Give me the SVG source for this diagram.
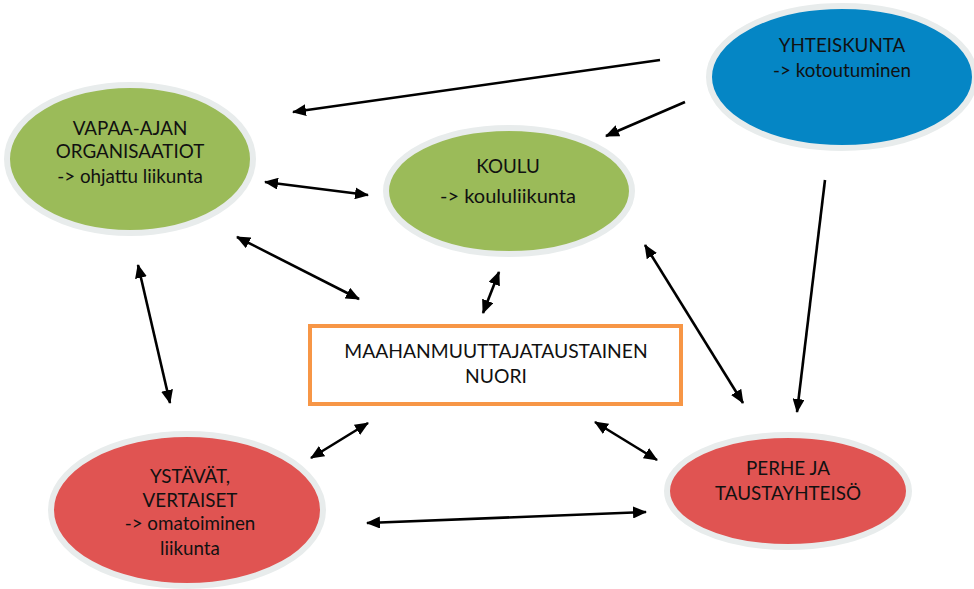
<svg xmlns="http://www.w3.org/2000/svg" width="974" height="589" viewBox="0 0 974 589">
<defs>
<marker id="ah" viewBox="0 0 14 12" refX="13" refY="6" markerWidth="14" markerHeight="12" markerUnits="userSpaceOnUse" orient="auto-start-reverse">
<path d="M0,0 L14,6 L0,12 z" fill="#000"/>
</marker>
<style>
.ring{stroke:#e8ecec;stroke-width:6}
.green{fill:#9bbb59}
.red{fill:#e05452}
.blue{fill:#0586c5}
.t{font-family:Lato,"Liberation Sans",sans-serif;font-size:18.8px;fill:#111;text-anchor:middle}
.c line{stroke:#000;stroke-width:2.6;fill:none}
.one{marker-end:url(#ah)}
.two{marker-start:url(#ah);marker-end:url(#ah)}
</style>
</defs>
<rect width="974" height="589" fill="#fff"/>
<g id="vapaa">
<ellipse class="ring green" cx="130" cy="159" rx="123" ry="74"/>
<text class="t" x="130" y="135">VAPAA-AJAN</text>
<text class="t" x="130" y="158">ORGANISAATIOT</text>
<text class="t" x="130" y="183">-&gt; ohjattu liikunta</text>
</g>
<g id="koulu">
<ellipse class="ring green" cx="509" cy="191" rx="123" ry="63"/>
<text class="t" x="508" y="173">KOULU</text>
<text class="t" x="508" y="203" style="font-size:20px">-&gt; koululiikunta</text>
</g>
<g id="yhteiskunta">
<ellipse class="ring blue" cx="842" cy="77" rx="133" ry="71"/>
<text class="t" x="842" y="52">YHTEISKUNTA</text>
<text class="t" x="842" y="77">-&gt; kotoutuminen</text>
</g>
<g id="nuori">
<rect x="310" y="326" width="371" height="78" fill="#fff" stroke="#f79646" stroke-width="4"/>
<text class="t" x="496" y="358" style="font-size:19.3px">MAAHANMUUTTAJATAUSTAINEN</text>
<text class="t" x="496" y="383" style="font-size:19.3px">NUORI</text>
</g>
<g id="ystavat">
<ellipse class="ring red" cx="187" cy="510" rx="136" ry="76"/>
<text class="t" x="190" y="483">YSTÄVÄT,</text>
<text class="t" x="190" y="507">VERTAISET</text>
<text class="t" x="190" y="530">-&gt; omatoiminen</text>
<text class="t" x="190" y="555">liikunta</text>
</g>
<g id="perhe">
<ellipse class="ring red" cx="788" cy="491" rx="121" ry="56"/>
<text class="t" x="788" y="475">PERHE JA</text>
<text class="t" x="788" y="500">TAUSTAYHTEISÖ</text>
</g>
<g id="connectors" class="c">
<line class="one" x1="660" y1="60" x2="293" y2="112"/>
<line class="one" x1="685" y1="102" x2="606" y2="136"/>
<line class="one" x1="825" y1="180" x2="797" y2="412"/>
<line class="two" x1="265" y1="182" x2="368" y2="195"/>
<line class="two" x1="237" y1="237" x2="359" y2="299"/>
<line class="two" x1="138" y1="265" x2="170" y2="403"/>
<line class="two" x1="499" y1="272" x2="483" y2="313"/>
<line class="two" x1="645" y1="245" x2="743" y2="403"/>
<line class="two" x1="311" y1="458" x2="368" y2="423"/>
<line class="two" x1="595" y1="422" x2="657" y2="460"/>
<line class="two" x1="367" y1="523" x2="646" y2="512"/>
</g>
</svg>
